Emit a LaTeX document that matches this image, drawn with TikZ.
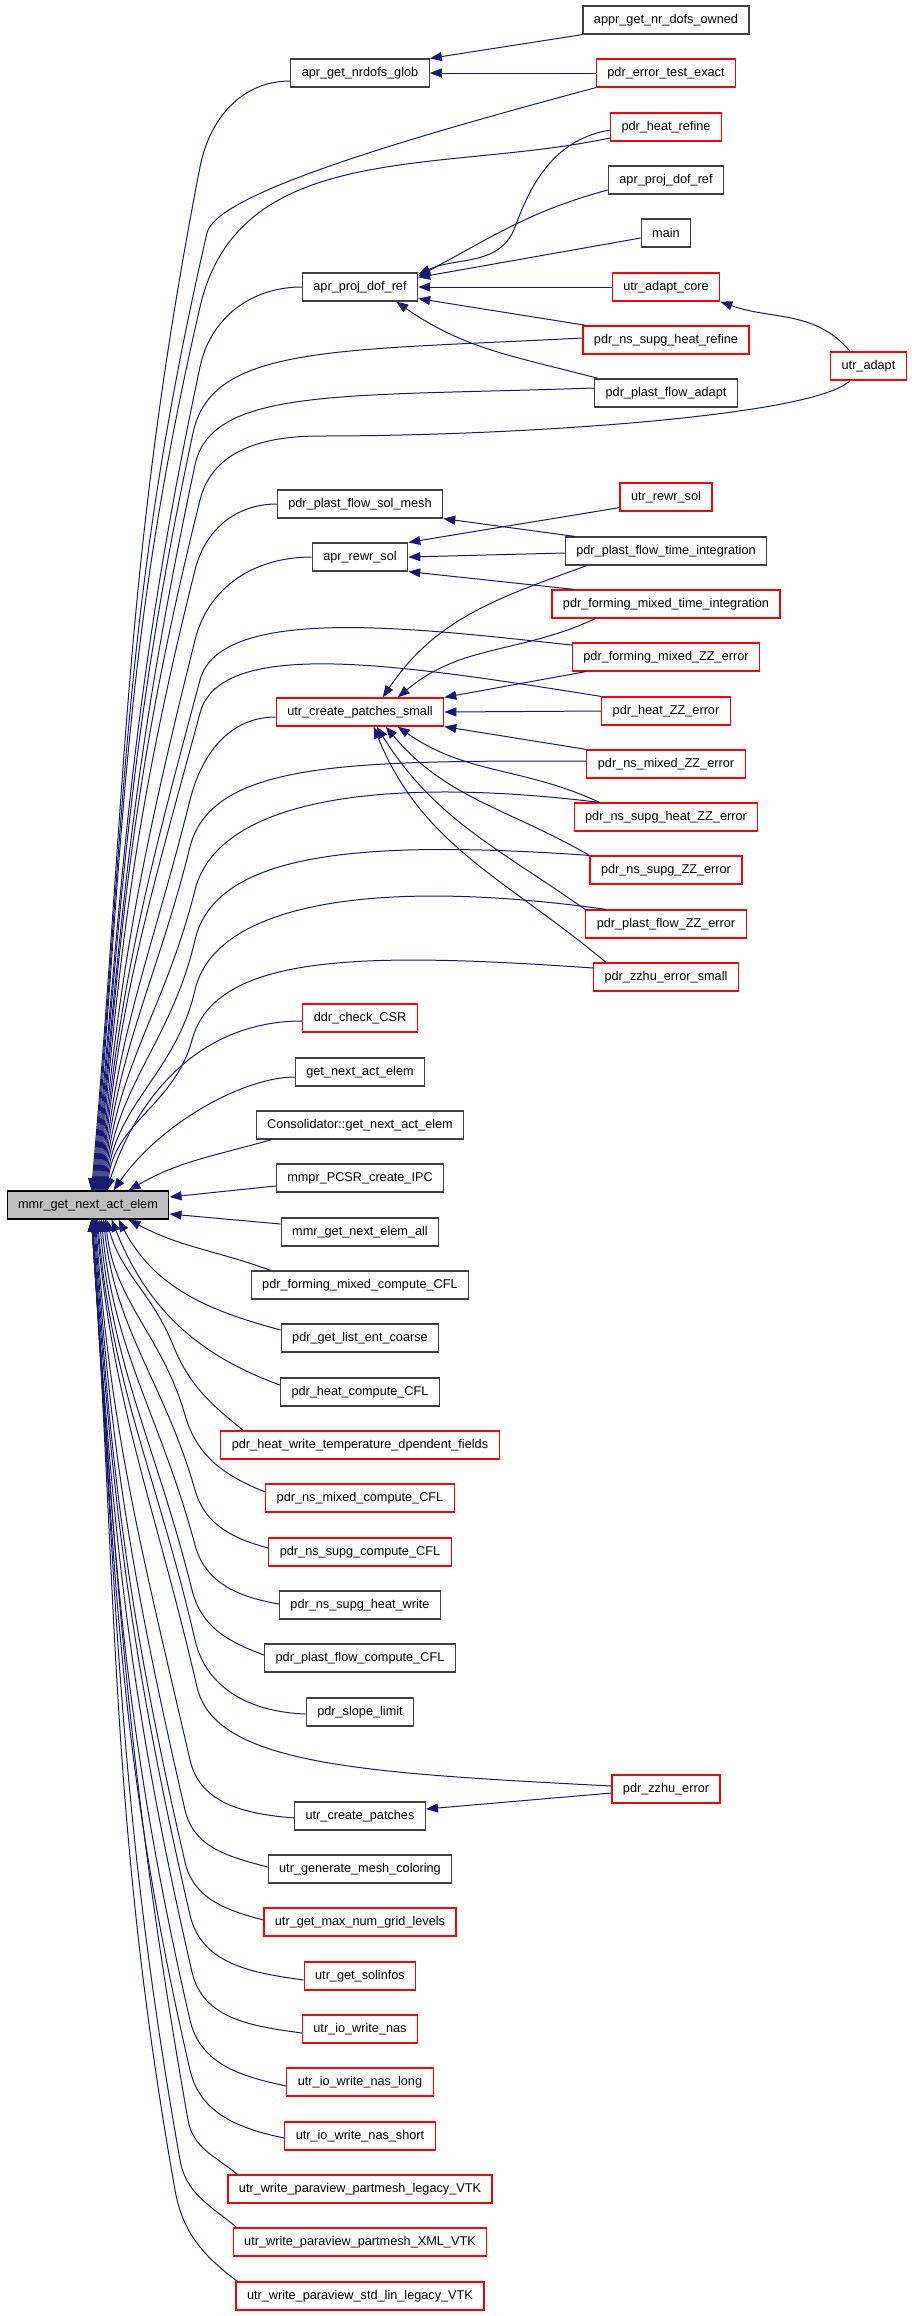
\documentclass[tikz,border=0pt]{standalone}
\usepackage{fontspec}
\setmainfont{Liberation Sans}
\usetikzlibrary{arrows.meta}
\definecolor{edgeblue}{RGB}{25,25,112}
\definecolor{boxgray}{RGB}{64,64,64}
\definecolor{boxred}{RGB}{255,0,0}
\definecolor{mainfill}{RGB}{191,191,191}

\begin{document}
\begin{tikzpicture}[x=1pt,y=1pt,
  fn/.style={draw=boxgray,line width=1.2pt,inner xsep=11pt,inner ysep=0pt,minimum height=28pt,font=\fontsize{12.7}{14}\selectfont},
  fnred/.style={fn,draw=boxred},
  fnmain/.style={fn,draw=black,fill=mainfill},
  call/.style={draw=edgeblue,line width=1pt,arrows={Triangle[length=12pt,width=9pt]-}}]
\useasboundingbox (0,0) rectangle (912,-2316);

\node[fnmain] (mmr) at (88,-1205) {mmr\_get\_next\_act\_elem};

\node[fn] (glob) at (360,-73) {apr\_get\_nrdofs\_glob};
\node[fn] (projl) at (360,-287) {apr\_proj\_dof\_ref};
\node[fn] (solmesh) at (360,-504) {pdr\_plast\_flow\_sol\_mesh};
\node[fn] (rewr) at (360,-557) {apr\_rewr\_sol};
\node[fnred] (ucps) at (360,-712) {utr\_create\_patches\_small};
\node[fnred] (ddr) at (360,-1018) {ddr\_check\_CSR};
\node[fn] (getnext) at (360,-1072) {get\_next\_act\_elem};
\node[fn] (consol) at (360,-1125) {Consolidator::get\_next\_act\_elem};
\node[fn] (mmpr) at (360,-1178) {mmpr\_PCSR\_create\_IPC};
\node[fn] (nextall) at (360,-1232) {mmr\_get\_next\_elem\_all};
\node[fn] (fmcfl) at (360,-1285) {pdr\_forming\_mixed\_compute\_CFL};
\node[fn] (listent) at (360,-1338) {pdr\_get\_list\_ent\_coarse};
\node[fn] (heatcfl) at (360,-1392) {pdr\_heat\_compute\_CFL};
\node[fnred] (heatwrite) at (360,-1445) {pdr\_heat\_write\_temperature\_dpendent\_fields};
\node[fnred] (nsmcfl) at (360,-1498) {pdr\_ns\_mixed\_compute\_CFL};
\node[fnred] (nsscfl) at (360,-1552) {pdr\_ns\_supg\_compute\_CFL};
\node[fn] (nshwrite) at (360,-1605) {pdr\_ns\_supg\_heat\_write};
\node[fn] (pfcfl) at (360,-1658) {pdr\_plast\_flow\_compute\_CFL};
\node[fn] (slope) at (360,-1712) {pdr\_slope\_limit};
\node[fn] (ucp) at (360,-1816) {utr\_create\_patches};
\node[fn] (meshcol) at (360,-1869) {utr\_generate\_mesh\_coloring};
\node[fnred] (maxgrid) at (360,-1922) {utr\_get\_max\_num\_grid\_levels};
\node[fnred] (solinfo) at (360,-1976) {utr\_get\_solinfos};
\node[fnred] (nas) at (360,-2029) {utr\_io\_write\_nas};
\node[fnred] (naslong) at (360,-2082) {utr\_io\_write\_nas\_long};
\node[fnred] (nasshort) at (360,-2136) {utr\_io\_write\_nas\_short};
\node[fnred] (pvleg) at (360,-2189) {utr\_write\_paraview\_partmesh\_legacy\_VTK};
\node[fnred] (pvxml) at (360,-2242) {utr\_write\_paraview\_partmesh\_XML\_VTK};
\node[fnred] (pvstd) at (360,-2296) {utr\_write\_paraview\_std\_lin\_legacy\_VTK};

\node[fn] (appr) at (666,-20) {appr\_get\_nr\_dofs\_owned};
\node[fnred] (errtest) at (666,-73) {pdr\_error\_test\_exact};
\node[fnred] (heatref) at (666,-127) {pdr\_heat\_refine};
\node[fn] (projr) at (666,-180) {apr\_proj\_dof\_ref};
\node[fn] (mainfn) at (666,-233) {main};
\node[fnred] (adaptcore) at (666,-287) {utr\_adapt\_core};
\node[fnred] (nshref) at (666,-340) {pdr\_ns\_supg\_heat\_refine};
\node[fn] (pfadapt) at (666,-393) {pdr\_plast\_flow\_adapt};
\node[fnred] (uadapt) at (868.5,-366) {utr\_adapt};
\node[fnred] (urewr) at (666,-497) {utr\_rewr\_sol};
\node[fn] (pfti) at (666,-551) {pdr\_plast\_flow\_time\_integration};
\node[fnred] (fmti) at (666,-604) {pdr\_forming\_mixed\_time\_integration};
\node[fnred] (fmzz) at (666,-657) {pdr\_forming\_mixed\_ZZ\_error};
\node[fnred] (heatzz) at (666,-711) {pdr\_heat\_ZZ\_error};
\node[fnred] (nsmzz) at (666,-764) {pdr\_ns\_mixed\_ZZ\_error};
\node[fnred] (nshzz) at (666,-817) {pdr\_ns\_supg\_heat\_ZZ\_error};
\node[fnred] (nszz) at (666,-870) {pdr\_ns\_supg\_ZZ\_error};
\node[fnred] (pfzz) at (666,-924) {pdr\_plast\_flow\_ZZ\_error};
\node[fnred] (zzhus) at (666,-977) {pdr\_zzhu\_error\_small};
\node[fnred] (zzhu) at (666,-1789) {pdr\_zzhu\_error};

\draw[call] ([xshift=85pt]mmr.north west) to[out=85,in=259] (200,-167) to[out=79,in=180] ([yshift=-8pt]glob.west);
\draw[call] ([xshift=86pt]mmr.north west) to[out=85,in=257] (207,-233) to[out=77,in=195,out distance=40pt,in distance=200pt] (errtest.south west);
\draw[call] ([xshift=87pt]mmr.north west) to[out=85,in=257] (200,-307) to[out=77,in=192] ([yshift=-11pt]heatref.west);
\draw[call] ([xshift=88pt]mmr.north west) to[out=85,in=258] (200,-367) to[out=78,in=180] (projl.west);
\draw[call] ([xshift=89pt]mmr.north west) to[out=85,in=258] (193,-433) to[out=78,in=183,out distance=90pt,in distance=250pt] ([yshift=2pt]nshref.west);
\draw[call] ([xshift=90pt]mmr.north west) to[out=85,in=258] (195,-465) to[out=78,in=182,out distance=80pt,in distance=250pt] ([yshift=5pt]pfadapt.west);
\draw[call] ([xshift=91pt]mmr.north west) to[out=85,in=256] (200,-500) to[out=76,in=180] (320,-436) to[out=0,in=225,out distance=200pt,in distance=50pt] ([xshift=20pt]uadapt.south west);
\draw[call] ([xshift=92pt]mmr.north west) to[out=85,in=256] (195,-570) to[out=76,in=180] (solmesh.west);
\draw[call] ([xshift=93pt]mmr.north west) to[out=85,in=256] (195,-640) to[out=76,in=180] (rewr.west);
\draw[call] ([xshift=94pt]mmr.north west) to[out=85,in=255] (200,-680) to[out=75,in=174,out distance=80pt,in distance=150pt] ([yshift=12pt]fmzz.west);
\draw[call] ([xshift=95pt]mmr.north west) to[out=85,in=255] (200,-713) to[out=75,in=171,out distance=80pt,in distance=200pt] (heatzz.north west);
\draw[call] ([xshift=96pt]mmr.north west) to[out=85,in=256] (190,-800) to[out=76,in=180] ([yshift=-5pt]ucps.west);
\draw[call] ([xshift=97pt]mmr.north west) to[out=85,in=256] (190,-847) to[out=76,in=180,out distance=90pt,in distance=230pt] ([yshift=3pt]nsmzz.west);
\draw[call] ([xshift=98pt]mmr.north west) to[out=85,in=256] (195,-890) to[out=76,in=173,out distance=90pt,in distance=230pt] ([xshift=26pt]nshzz.north west);
\draw[call] ([xshift=99pt]mmr.north west) to[out=85,in=257] (195,-940) to[out=77,in=176,out distance=90pt,in distance=230pt] (nszz.north west);
\draw[call] ([xshift=100pt]mmr.north west) to[out=85,in=257] (195,-990) to[out=77,in=172,out distance=90pt,in distance=230pt] ([xshift=21pt]pfzz.north west);
\draw[call] ([xshift=101pt]mmr.north west) to[out=85,in=255] (192,-1040) to[out=75,in=176,out distance=90pt,in distance=230pt] ([yshift=9pt]zzhus.west);
\draw[call] ([xshift=100pt]mmr.north west) to[out=72,in=180] ([yshift=-3pt]ddr.west);
\draw[call] ([xshift=107pt]mmr.north west) to[out=55,in=180,in distance=50pt] ([yshift=-5pt]getnext.west);
\draw[call] ([xshift=122pt]mmr.north west) to[out=30,in=196] ([xshift=16pt]consol.south west);
\draw[call] ([yshift=8pt]mmr.east) -- ([yshift=-8pt]mmpr.west);
\draw[call] ([yshift=-9pt]mmr.east) -- ([yshift=8pt]nextall.west);
\draw[call] ([xshift=122pt]mmr.south west) to[out=-28,in=160] ([xshift=20pt]fmcfl.north west);
\draw[call] ([xshift=112pt]mmr.south west) to[out=-62,in=165] ([yshift=8pt]listent.west);
\draw[call] ([xshift=105pt]mmr.south west) to[out=-68,in=160] ([yshift=7pt]heatcfl.west);
\draw[call] ([xshift=100pt]mmr.south west) to[out=-75,in=112] (173,-1345) to[out=-68,in=141] ([xshift=23pt]heatwrite.north west);
\draw[call] ([xshift=99pt]mmr.south west) to[out=-84,in=106] (185,-1415) to[out=-74,in=158] ([yshift=6pt]nsmcfl.west);
\draw[call] ([xshift=97pt]mmr.south west) to[out=-84,in=106] (195,-1490) to[out=-74,in=165] ([yshift=4pt]nsscfl.west);
\draw[call] ([xshift=95pt]mmr.south west) to[out=-85,in=105] (195,-1545) to[out=-75,in=170] ([yshift=1pt]nshwrite.west);
\draw[call] ([xshift=93pt]mmr.south west) to[out=-85,in=104] (192,-1590) to[out=-76,in=160] ([yshift=3pt]pfcfl.west);
\draw[call] ([xshift=91pt]mmr.south west) to[out=-85,in=103] (195,-1640) to[out=-77,in=178] ([yshift=-2pt]slope.west);
\draw[call] ([xshift=90pt]mmr.south west) to[out=-85,in=103] (197,-1687) to[out=-77,in=177,out distance=80pt,in distance=250pt] ([yshift=3pt]zzhu.west);
\draw[call] ([xshift=89pt]mmr.south west) to[out=-86,in=103] (190,-1760) to[out=-77,in=175] ([yshift=-2pt]ucp.west);
\draw[call] ([xshift=88pt]mmr.south west) to[out=-86,in=103] (185,-1810) to[out=-77,in=165] ([yshift=2pt]meshcol.west);
\draw[call] ([xshift=87pt]mmr.south west) to[out=-86,in=103] (185,-1862) to[out=-77,in=165] ([yshift=2pt]maxgrid.west);
\draw[call] ([xshift=86pt]mmr.south west) to[out=-86,in=103] (190,-1915) to[out=-77,in=172] ([yshift=-4pt]solinfo.west);
\draw[call] ([xshift=85pt]mmr.south west) to[out=-86,in=103] (192,-1972) to[out=-77,in=172] ([yshift=-4pt]nas.west);
\draw[call] ([xshift=85pt]mmr.south west) to[out=-86,in=103] (190,-2020) to[out=-77,in=168] ([yshift=-4pt]naslong.west);
\draw[call] ([xshift=85pt]mmr.south west) to[out=-86,in=103] (190,-2070) to[out=-77,in=168] ([yshift=-2pt]nasshort.west);
\draw[call] ([xshift=85pt]mmr.south west) to[out=-86,in=100] (188,-2120) to[out=-80,in=140] ([xshift=10pt]pvleg.north west);
\draw[call] ([xshift=85pt]mmr.south west) to[out=-86,in=100] (180,-2160) to[out=-80,in=140] ([xshift=4pt]pvxml.north west);
\draw[call] ([xshift=85pt]mmr.south west) to[out=-86,in=100] (175,-2190) to[out=-80,in=143] ([xshift=2pt]pvstd.north west);

\draw[call] (glob.north east) -- (appr.south west);
\draw[call] (glob.east) -- (errtest.west);
\draw[call] ([yshift=-2pt]projl.north east) to[out=25,in=250] (515,-227) to[out=70,in=190] ([yshift=-3pt]heatref.west);
\draw[call] ([yshift=-4pt]projl.north east) to[out=28,in=195] ([yshift=-10pt]projr.west);
\draw[call] ([yshift=-5pt]projl.north east) -- ([yshift=-5pt]mainfn.west);
\draw[call] (projl.east) -- (adaptcore.west);
\draw[call] ([yshift=3pt]projl.south east) -- ([xshift=4pt]nshref.north west);
\draw[call] ([xshift=-22pt]projl.south east) to[out=-35,in=165] ([xshift=4pt]pfadapt.north west);
\draw[call] (adaptcore.south east) to[out=-20,in=130] ([xshift=20pt]uadapt.north west);
\draw[call] (solmesh.south east) -- ([xshift=10pt]pfti.north west);
\draw[call] (rewr.north east) -- ([yshift=4pt]urewr.south west);
\draw[call] (rewr.east) -- ([yshift=-2pt]pfti.west);
\draw[call] (rewr.south east) -- ([xshift=23pt]fmti.north west);
\draw[call] ([xshift=107pt]ucps.north west) to[out=56,in=200] ([xshift=22pt]pfti.south west);
\draw[call] ([xshift=122pt]ucps.north west) to[out=40,in=205] ([xshift=44pt]fmti.south west);
\draw[call] (ucps.north east) -- ([xshift=14pt]fmzz.south west);
\draw[call] (ucps.east) -- (heatzz.west);
\draw[call] (ucps.south east) -- (nsmzz.north west);
\draw[call] ([xshift=122pt]ucps.south west) to[out=-35,in=155] ([xshift=26pt]nshzz.north west);
\draw[call] ([xshift=110pt]ucps.south west) to[out=-50,in=150] (nszz.north west);
\draw[call] ([xshift=101pt]ucps.south west) to[out=-58,in=145] (pfzz.north west);
\draw[call] ([xshift=98pt]ucps.south west) to[out=-68,in=140] ([xshift=13pt]zzhus.north west);
\draw[call] ([yshift=7pt]ucp.east) -- ([yshift=-4pt]zzhu.west);
\end{tikzpicture}
\end{document}
